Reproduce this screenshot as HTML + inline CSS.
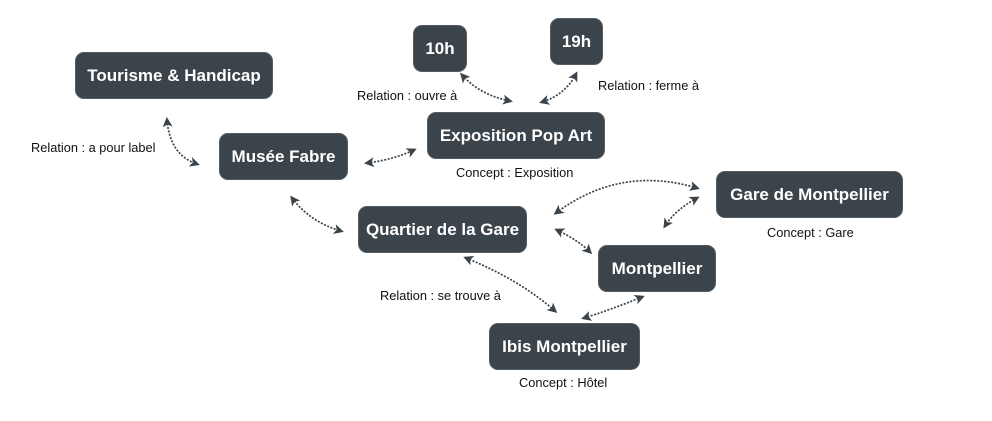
<!DOCTYPE html>
<html><head><meta charset="utf-8"><style>
body{margin:0;width:992px;height:421px;background:#fff;position:relative;overflow:hidden;font-family:"Liberation Sans",sans-serif}
.n{position:absolute;background:#3c444b;color:#fff;border-radius:9px;font-weight:bold;font-size:17px;display:flex;align-items:center;justify-content:center;box-sizing:border-box;border:1px solid #555c62}
.l{position:absolute;font-size:12.8px;color:#111;white-space:nowrap}
svg{position:absolute;left:0;top:0}
</style></head><body>
<svg width="992" height="421">
<defs><marker id="a" markerWidth="10" markerHeight="10" refX="7" refY="5" orient="auto-start-reverse" markerUnits="userSpaceOnUse"><path d="M0,0 L10,5 L0,10 L2.5,5 Z" fill="#3c444b"/></marker></defs>
<g fill="none" stroke="#3c444b" stroke-width="1.7" stroke-dasharray="2,1.5" marker-start="url(#a)" marker-end="url(#a)">
<path d="M167,120 Q170,155 197,164"/>
<path d="M367,163 Q392,160 414,150"/>
<path d="M462,75 Q480,95 510,101"/>
<path d="M576,74 Q565,95 542,102"/>
<path d="M292,198 Q310,222 341,231"/>
<path d="M556,213 Q620,165 697,188"/>
<path d="M697,198 Q675,210 665,226"/>
<path d="M557,230 Q578,240 590,252"/>
<path d="M466,258 Q520,280 555,311"/>
<path d="M642,297 Q610,310 584,318"/>
</g></svg>
<div class="n" style="left:75px;top:52px;width:198px;height:47px">Tourisme &amp; Handicap</div>
<div class="n" style="left:219px;top:133px;width:129px;height:47px">Musée Fabre</div>
<div class="n" style="left:413px;top:25px;width:54px;height:47px">10h</div>
<div class="n" style="left:550px;top:18px;width:53px;height:47px">19h</div>
<div class="n" style="left:427px;top:112px;width:178px;height:47px">Exposition Pop Art</div>
<div class="n" style="left:358px;top:206px;width:169px;height:47px">Quartier de la Gare</div>
<div class="n" style="left:716px;top:171px;width:187px;height:47px">Gare de Montpellier</div>
<div class="n" style="left:598px;top:245px;width:118px;height:47px">Montpellier</div>
<div class="n" style="left:489px;top:323px;width:151px;height:47px">Ibis Montpellier</div>
<div class="l" style="left:31px;top:140px">Relation : a pour label</div>
<div class="l" style="left:357px;top:88px">Relation : ouvre à</div>
<div class="l" style="left:598px;top:78px">Relation : ferme à</div>
<div class="l" style="left:456px;top:165px">Concept : Exposition</div>
<div class="l" style="left:767px;top:225px">Concept : Gare</div>
<div class="l" style="left:380px;top:288px">Relation : se trouve à</div>
<div class="l" style="left:519px;top:375px">Concept : Hôtel</div>
</body></html>
